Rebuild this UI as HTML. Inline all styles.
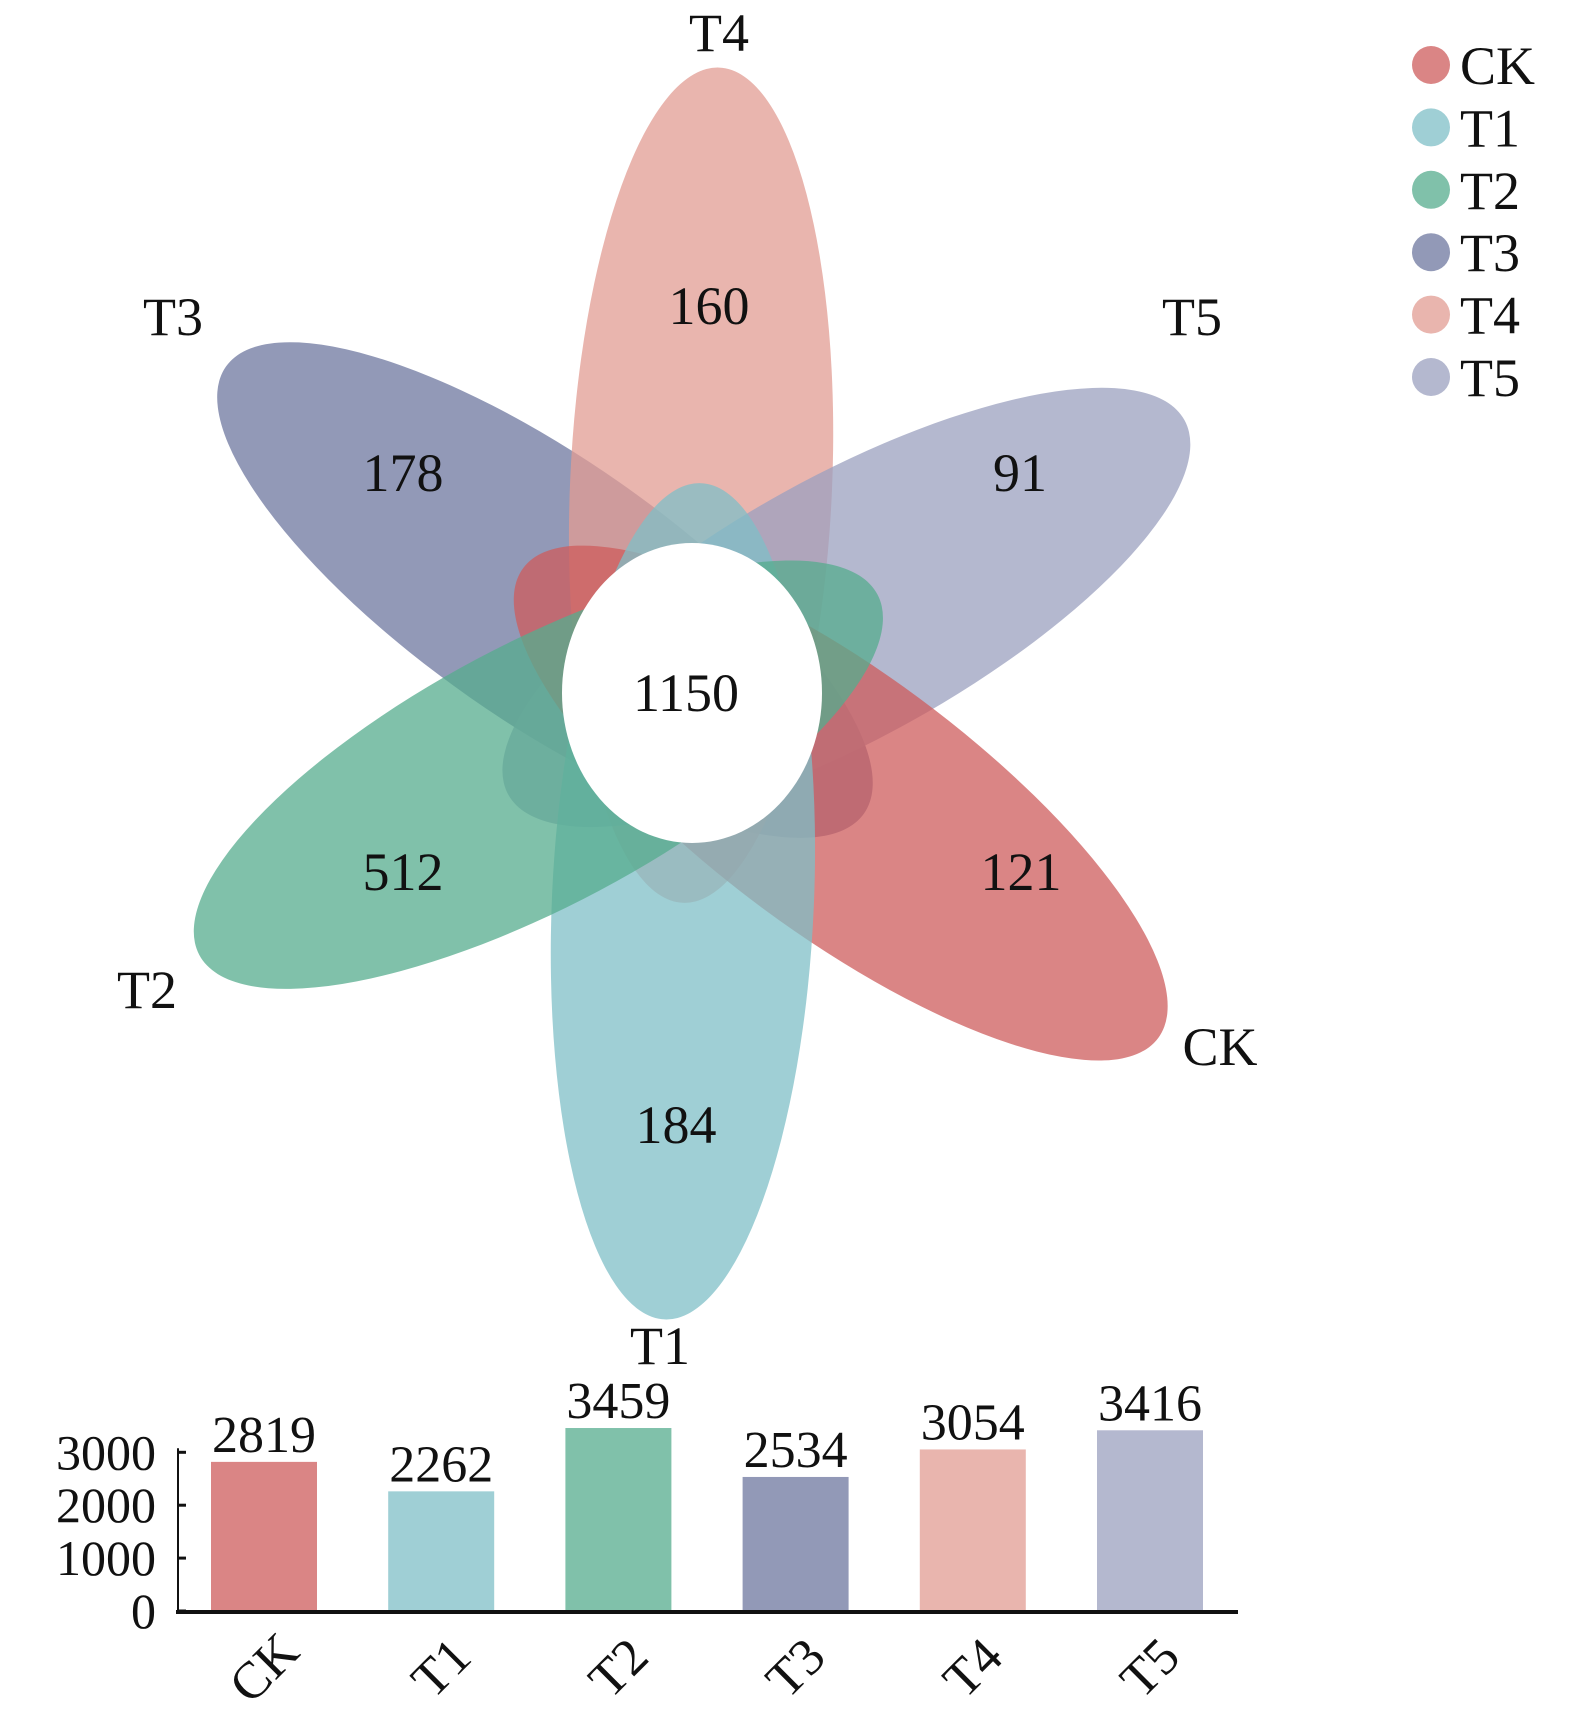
<!DOCTYPE html>
<html><head><meta charset="utf-8"><style>
html,body{margin:0;padding:0;background:#fff;}
svg{display:block;font-family:"Liberation Serif",serif;}
</style></head><body>
<svg width="1575" height="1722" viewBox="0 0 1575 1722">
<g id="petals"></g>
<ellipse cx="692" cy="693" rx="130" ry="150" fill="#fff"/>
<g id="labels" font-size="54" fill="#111" text-anchor="middle"></g>
<g id="legend" font-size="54" fill="#111"></g>
<g id="bars"></g>
</svg>
<script>
const groups = ["CK","T1","T2","T3","T4","T5"];
const uniqueCounts = [121,184,512,178,160,91];
const coreCount = 1150;
const totals = [2819,2262,3459,2534,3054,3416];
const yTicks = [0,1000,2000,3000];

const legendColors = ["#da8585","#9fcfd5","#80c1aa","#9299b7","#e9b5ae","#b4b8cf"];
const petalColors = ["#cd5c5c","#7fbfc7","#55ac8e","#6e779f","#e19c93","#9ba0bf"];
const petalAngles = [36.5,92.5,152,215,-87.5,-29];
const petalLen = [580,627,558,569,626,563];
const cx=692, cy=693;
const NS="http://www.w3.org/2000/svg";
function mk(t,a,p){const e=document.createElementNS(NS,t);for(const k in a)e.setAttribute(k,a[k]);p.appendChild(e);return e;}

const petals=document.getElementById('petals');
const labels=document.getElementById('labels');
const order=[3,4,5,0,1,2];
order.forEach(i=>{
  const L=petalLen[i], a=(L+210)/2, off=L-a, th=petalAngles[i]*Math.PI/180;
  const ex=cx+off*Math.cos(th), ey=cy+off*Math.sin(th);
  const e=mk('ellipse',{cx:ex,cy:ey,rx:a,ry:131,fill:petalColors[i],'fill-opacity':0.75,transform:`rotate(${petalAngles[i]} ${ex} ${ey})`},petals);
  
  
});
const numPos=[[1021,872],[676,1125],[403,872],[403,473],[709,306],[1020,473]];
const namePos=[[1220,1047],[660,1346],[147,990],[173,317],[719,33],[1192,317]];
groups.forEach((g,i)=>{
  const t=mk('text',{x:numPos[i][0],y:numPos[i][1]+18},labels);t.textContent=uniqueCounts[i];
  
  
  const n=mk('text',{x:namePos[i][0],y:namePos[i][1]+18},labels);n.textContent=g;
  
  
});
const ct=mk('text',{x:cx-6,y:cy+18},labels);ct.textContent=coreCount;



const legend=document.getElementById('legend');
groups.forEach((g,i)=>{
  const y=65+i*62.4;
  const c=mk('circle',{cx:1431,cy:y,r:19,fill:legendColors[i]},legend);
  
  
  const t=mk('text',{x:1460,y:y+19},legend);t.textContent=g;
  
  
});

// bar chart
const bars=document.getElementById('bars');
const base=1611, pxPer=0.0529, x0=211, step=177.2, bw=106;
const yS=v=>base-v*pxPer;
const xS=i=>x0+i*step;
const yax=mk('line',{x1:178,y1:base,x2:178,y2:yS(3000)-4,stroke:'#111','stroke-width':2},bars);

yTicks.forEach(v=>{
  const tk=mk('line',{x1:178,y1:yS(v),x2:186,y2:yS(v),stroke:'#111','stroke-width':3},bars);
  
  const t=mk('text',{x:156,y:yS(v)+17,'font-size':50,'text-anchor':'end',fill:'#111'},bars);t.textContent=v;
  
});
totals.forEach((v,i)=>{
  const r=mk('rect',{x:xS(i),y:yS(v),width:bw,height:base-yS(v),fill:legendColors[i]},bars);
  
  
  const t=mk('text',{x:xS(i)+bw/2,y:yS(v)-10,'font-size':52,'text-anchor':'middle',fill:'#111'},bars);t.textContent=v;
  
  
  const lx=xS(i)+bw/2, ly=1668;
  const xl=mk('text',{x:lx,y:ly+17,'font-size':52,'text-anchor':'middle',fill:'#111',transform:`rotate(-45 ${lx} ${ly})`},bars);xl.textContent=groups[i];
  
  
});
const xax=mk('line',{x1:176,y1:base+1,x2:1238,y2:base+1,stroke:'#111','stroke-width':4},bars);

</script>
</body></html>
